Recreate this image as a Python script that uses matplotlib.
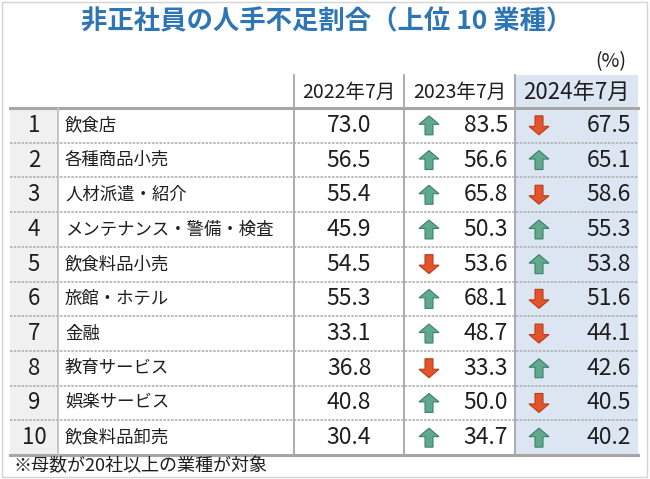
import matplotlib.pyplot as plt
from matplotlib.patches import Polygon, Rectangle

plt.rcParams['font.family'] = ['Noto Sans CJK JP', 'DejaVu Sans']

# データ
title = '非正社員の人手不足割合（上位 10 業種）'
unit = '(%)'
years = ['2022年7月', '2023年7月', '2024年7月']
ranks = [1, 2, 3, 4, 5, 6, 7, 8, 9, 10]
industries = ['飲食店', '各種商品小売', '人材派遣・紹介', 'メンテナンス・警備・検査',
              '飲食料品小売', '旅館・ホテル', '金融', '教育サービス',
              '娯楽サービス', '飲食料品卸売']
v2022 = [73.0, 56.5, 55.4, 45.9, 54.5, 55.3, 33.1, 36.8, 40.8, 30.4]
v2023 = [83.5, 56.6, 65.8, 50.3, 53.6, 68.1, 48.7, 33.3, 50.0, 34.7]
v2024 = [67.5, 65.1, 58.6, 55.3, 53.8, 51.6, 44.1, 42.6, 40.5, 40.2]
note = '※母数が20社以上の業種が対象'

# レイアウト (ピクセル座標)
x_left, x_rank, x_name, x_c1, x_c2, x_right = 10, 58, 294, 404, 515, 638
y_head_top, y_head_bot, y_bot = 75, 108, 455
row_h = (y_bot - y_head_bot) / len(ranks)

GREEN, GREEN_EDGE = '#5fa98c', '#3f8069'
RED, RED_EDGE = '#e4542c', '#b83d1c'
LINE = '#a6a6a6'
TXT = '#1e1e1e'


def arrow(ax, cx, cy, up):
    # 矢印の形 (上向き)、中心からの相対座標
    w_head, w_shaft, h = 10, 4, 9.5
    pts = [(0, -h), (w_head, -1), (w_shaft, -1), (w_shaft, h),
           (-w_shaft, h), (-w_shaft, -1), (-w_head, -1)]
    if not up:
        pts = [(x, -y) for x, y in pts]
    pts = [(cx + x, cy + y) for x, y in pts]
    fc, ec = (GREEN, GREEN_EDGE) if up else (RED, RED_EDGE)
    ax.add_patch(Polygon(pts, closed=True, facecolor=fc, edgecolor=ec, lw=0.8, zorder=3))


fig = plt.figure(figsize=(6.5, 4.79), dpi=100)
ax = fig.add_axes([0, 0, 1, 1])
ax.set_xlim(0, 650)
ax.set_ylim(479, 0)
ax.axis('off')

# 外枠
ax.add_patch(Rectangle((2, 2), 645, 475, facecolor='white', edgecolor='#d4d4d4', lw=1, zorder=0))

# 背景
ax.add_patch(Rectangle((x_c2, y_head_top), x_right - x_c2, y_bot - y_head_top,
                       facecolor='#dce6f2', edgecolor='none', zorder=1))
ax.add_patch(Rectangle((x_left, y_head_bot), x_rank - x_left, y_bot - y_head_bot,
                       facecolor='#f0f0f0', edgecolor='none', zorder=1))

# タイトル
ax.text(327, 22, title, ha='center', va='center', fontsize=19, fontweight='bold', color='#2e75b6')
ax.text(626, 62, unit, ha='right', va='center', fontsize=14, color=TXT)

# ヘッダー
head_y = (y_head_top + y_head_bot) / 2 + 1
ax.text((x_name + x_c1) / 2, head_y, years[0], ha='center', va='center', fontsize=14, color=TXT)
ax.text((x_c1 + x_c2) / 2, head_y, years[1], ha='center', va='center', fontsize=14, color=TXT)
ax.text((x_c2 + x_right) / 2, head_y, years[2], ha='center', va='center', fontsize=16, color=TXT)

# 罫線
ax.plot([x_left, x_right], [y_head_bot, y_head_bot], color=LINE, lw=2.2, zorder=2)
ax.plot([x_left, x_right], [y_bot, y_bot], color=LINE, lw=2.2, zorder=2)
for i in range(1, len(ranks)):
    y = y_head_bot + i * row_h
    ax.plot([x_left, x_right], [y, y], color='#b0b0b0', lw=1.2, ls=(0, (1.5, 0.8)), zorder=2)
ax.plot([x_rank, x_rank], [y_head_bot, y_bot], color='#c0c0c0', lw=1.3, zorder=2)
for x in [x_name, x_c1, x_c2]:
    ax.plot([x, x], [y_head_top, y_bot], color=LINE, lw=1.3, zorder=2)

# 各行
for i, r in enumerate(ranks):
    cy = y_head_bot + (i + 0.5) * row_h
    ax.text((x_left + x_rank) / 2, cy, str(r), ha='center', va='center', fontsize=16, color=TXT)
    ax.text(65, cy, industries[i], ha='left', va='center', fontsize=12.5, color=TXT)
    ax.text((x_name + x_c1) / 2, cy, f'{v2022[i]:.1f}', ha='center', va='center', fontsize=16.5, color=TXT)
    arrow(ax, 429, cy, v2023[i] >= v2022[i])
    ax.text(508, cy, f'{v2023[i]:.1f}', ha='right', va='center', fontsize=16.5, color=TXT)
    arrow(ax, 539, cy, v2024[i] >= v2023[i])
    ax.text(631, cy, f'{v2024[i]:.1f}', ha='right', va='center', fontsize=16.5, color=TXT)

# 注記
ax.text(13, 466, note, ha='left', va='center', fontsize=13, color=TXT)

fig.savefig('out.png', dpi=100)
